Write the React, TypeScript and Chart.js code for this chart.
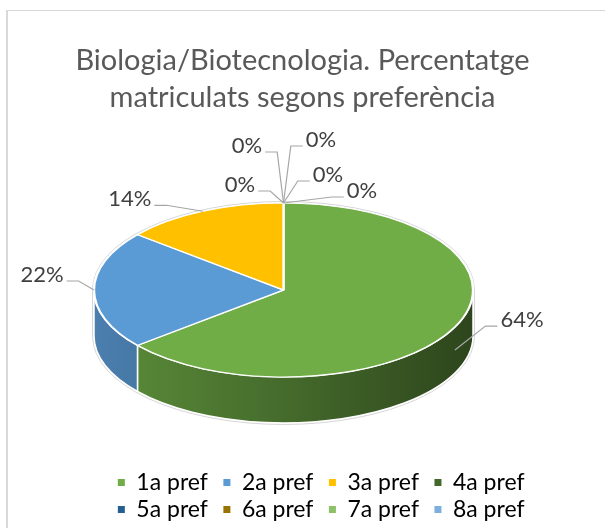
import React, { useEffect, useRef } from "react";
import { Chart, registerables } from "chart.js";

Chart.register(...registerables);

// ---- data ----
const TITLE_LINES = ["Biologia/Biotecnologia. Percentatge", "matriculats segons preferència"];
const categories = ["1a pref", "2a pref", "3a pref", "4a pref", "5a pref", "6a pref", "7a pref", "8a pref"];
const percentages = [64, 22, 14, 0, 0, 0, 0, 0];
const sliceColors = ["#70AD47", "#5B9BD5", "#FFC000", "#43682B", "#255E91", "#997300", "#8CC168", "#7CAFDD"];

// ---- layout / style constants (plot area of the 3D pie, like Excel's manual layout) ----
const PLOT = { cx: 283.5, cy: 290, rx: 189.5, ry: 87, depth: 46 };
// label centre offsets from each slice's anchor point on the pie edge
const LABEL_OFFSETS: [number, number][] = [
  [67, -30],
  [-52, -15],
  [-73, -12],
  [78.5, -12],
  [44.5, -28],
  [37.5, -63],
  [-36.5, -57],
  [-43.5, -18],
];
const FONT = "Lato";

function shade(hex: string, f: number) {
  const n = parseInt(hex.slice(1), 16);
  const r = Math.round(((n >> 16) & 255) * f);
  const g = Math.round(((n >> 8) & 255) * f);
  const b = Math.round((n & 255) * f);
  return `rgb(${r},${g},${b})`;
}

const pie3d = {
  id: "pie3d",
  beforeDraw(chart: any) {
    const ctx = chart.ctx;
    ctx.save();
    ctx.fillStyle = "#d9d9d9";
    ctx.fillRect(6, 10, 2, chart.height);
    ctx.fillRect(6, 10, chart.width, 1);
    ctx.restore();
  },
  beforeDatasetsDraw(chart: any) {
    const ctx = chart.ctx;
    const arcs = chart.getDatasetMeta(0).data;
    const { cx, cy, rx, ry, depth } = PLOT;
    // side walls (visible front half: angles 0..PI)
    arcs.forEach((arc: any, i: number) => {
      const p = arc.getProps(["startAngle", "endAngle"], true);
      const a = Math.max(p.startAngle, 0);
      const b = Math.min(p.endAngle, Math.PI);
      if (b <= a) return;
      const grad = ctx.createLinearGradient(cx - rx, 0, cx + rx, 0);
      grad.addColorStop(0, shade(sliceColors[i], 0.82));
      grad.addColorStop(0.5, shade(sliceColors[i], 0.62));
      grad.addColorStop(1, shade(sliceColors[i], 0.4));
      ctx.save();
      ctx.beginPath();
      ctx.ellipse(cx, cy, rx, ry, 0, a, b, false);
      ctx.ellipse(cx, cy + depth, rx, ry, 0, b, a, true);
      ctx.closePath();
      ctx.fillStyle = grad;
      ctx.fill();
      ctx.strokeStyle = "#ffffff";
      ctx.lineWidth = 1.5;
      ctx.stroke();
      ctx.restore();
    });
    // faint outline of the whole disc
    ctx.save();
    ctx.beginPath();
    ctx.ellipse(cx, cy, rx + 1.5, ry + 1.5, 0, Math.PI, 2 * Math.PI, false);
    ctx.ellipse(cx, cy + depth, rx + 1.5, ry + 1.5, 0, 0, Math.PI, false);
    ctx.closePath();
    ctx.strokeStyle = "#d6d6d6";
    ctx.lineWidth = 1;
    ctx.stroke();
    ctx.restore();
    // map the library's circular pie onto the top face ellipse
    const a0 = arcs[0].getProps(["x", "y", "outerRadius"], true);
    ctx.save();
    ctx.translate(cx, cy);
    ctx.scale(rx / a0.outerRadius, ry / a0.outerRadius);
    ctx.translate(-a0.x, -a0.y);
  },
  afterDatasetsDraw(chart: any) {
    const ctx = chart.ctx;
    ctx.restore();
    const arcs = chart.getDatasetMeta(0).data;
    const { cx, cy, rx, ry, depth } = PLOT;
    const values = chart.data.datasets[0].data as number[];
    const total = values.reduce((s, v) => s + v, 0);
    ctx.save();
    ctx.font = `22px ${FONT}`;
    ctx.textAlign = "center";
    ctx.textBaseline = "middle";
    arcs.forEach((arc: any, i: number) => {
      const p = arc.getProps(["startAngle", "endAngle"], true);
      const mid = (p.startAngle + p.endAngle) / 2;
      const ax = cx + rx * Math.cos(mid);
      let ay = cy + ry * Math.sin(mid);
      if (Math.sin(mid) > 0.05) ay += depth / 2;
      const [dx, dy] = LABEL_OFFSETS[i];
      const lx = ax + dx;
      const ly = ay + dy;
      const text = Math.round((values[i] / total) * 100) + "%";
      const w = ctx.measureText(text).width;
      const side = dx >= 0 ? -1 : 1;
      const ex = lx + side * (w / 2 + 3);
      const ey = ly + 6;
      const elx = ex + side * 12;
      ctx.beginPath();
      ctx.moveTo(ax, ay);
      ctx.lineTo(elx, ey);
      ctx.lineTo(ex, ey);
      ctx.strokeStyle = "#a6a6a6";
      ctx.lineWidth = 1.2;
      ctx.stroke();
      ctx.fillStyle = "#404040";
      ctx.fillText(text, lx, ly);
    });
    ctx.restore();
  },
};

export default function App() {
  const canvasRef = useRef<HTMLCanvasElement | null>(null);
  useEffect(() => {
    if (!canvasRef.current) return;
    const chart = new Chart(canvasRef.current, {
      type: "pie",
      data: {
        labels: categories,
        datasets: [
          {
            data: percentages,
            backgroundColor: sliceColors,
            borderColor: "#ffffff",
            borderWidth: 2,
            clip: false as any,
          },
        ],
      },
      options: {
        responsive: true,
        maintainAspectRatio: false,
        animation: false,
        events: [],
        layout: { padding: { left: 65, right: 65, top: 0, bottom: -3 } },
        plugins: {
          tooltip: { enabled: false },
          title: {
            display: true,
            text: TITLE_LINES,
            color: "#595959",
            font: { family: FONT, size: 29, weight: "normal", lineHeight: 1.25 },
            padding: { top: 43, bottom: 20 },
          },
          legend: {
            position: "bottom",
            align: "end",
            labels: {
              boxWidth: 7,
              boxHeight: 7,
              padding: 4,
              color: "#595959",
              font: { family: FONT, size: 23 },
              generateLabels: () =>
                categories.map((c, i) => ({
                  text: c + "\u2002",
                  fillStyle: sliceColors[i],
                  strokeStyle: sliceColors[i],
                  lineWidth: 0,
                  hidden: false,
                  index: i,
                  datasetIndex: 0,
                })),
            },
          },
        },
      },
      plugins: [pie3d],
    });
    return () => chart.destroy();
  }, []);
  return (
    <div style={{ position: "absolute", left: 0, top: 0, width: 605, height: 528, background: "#fff" }}>
      <canvas ref={canvasRef} />
    </div>
  );
}
